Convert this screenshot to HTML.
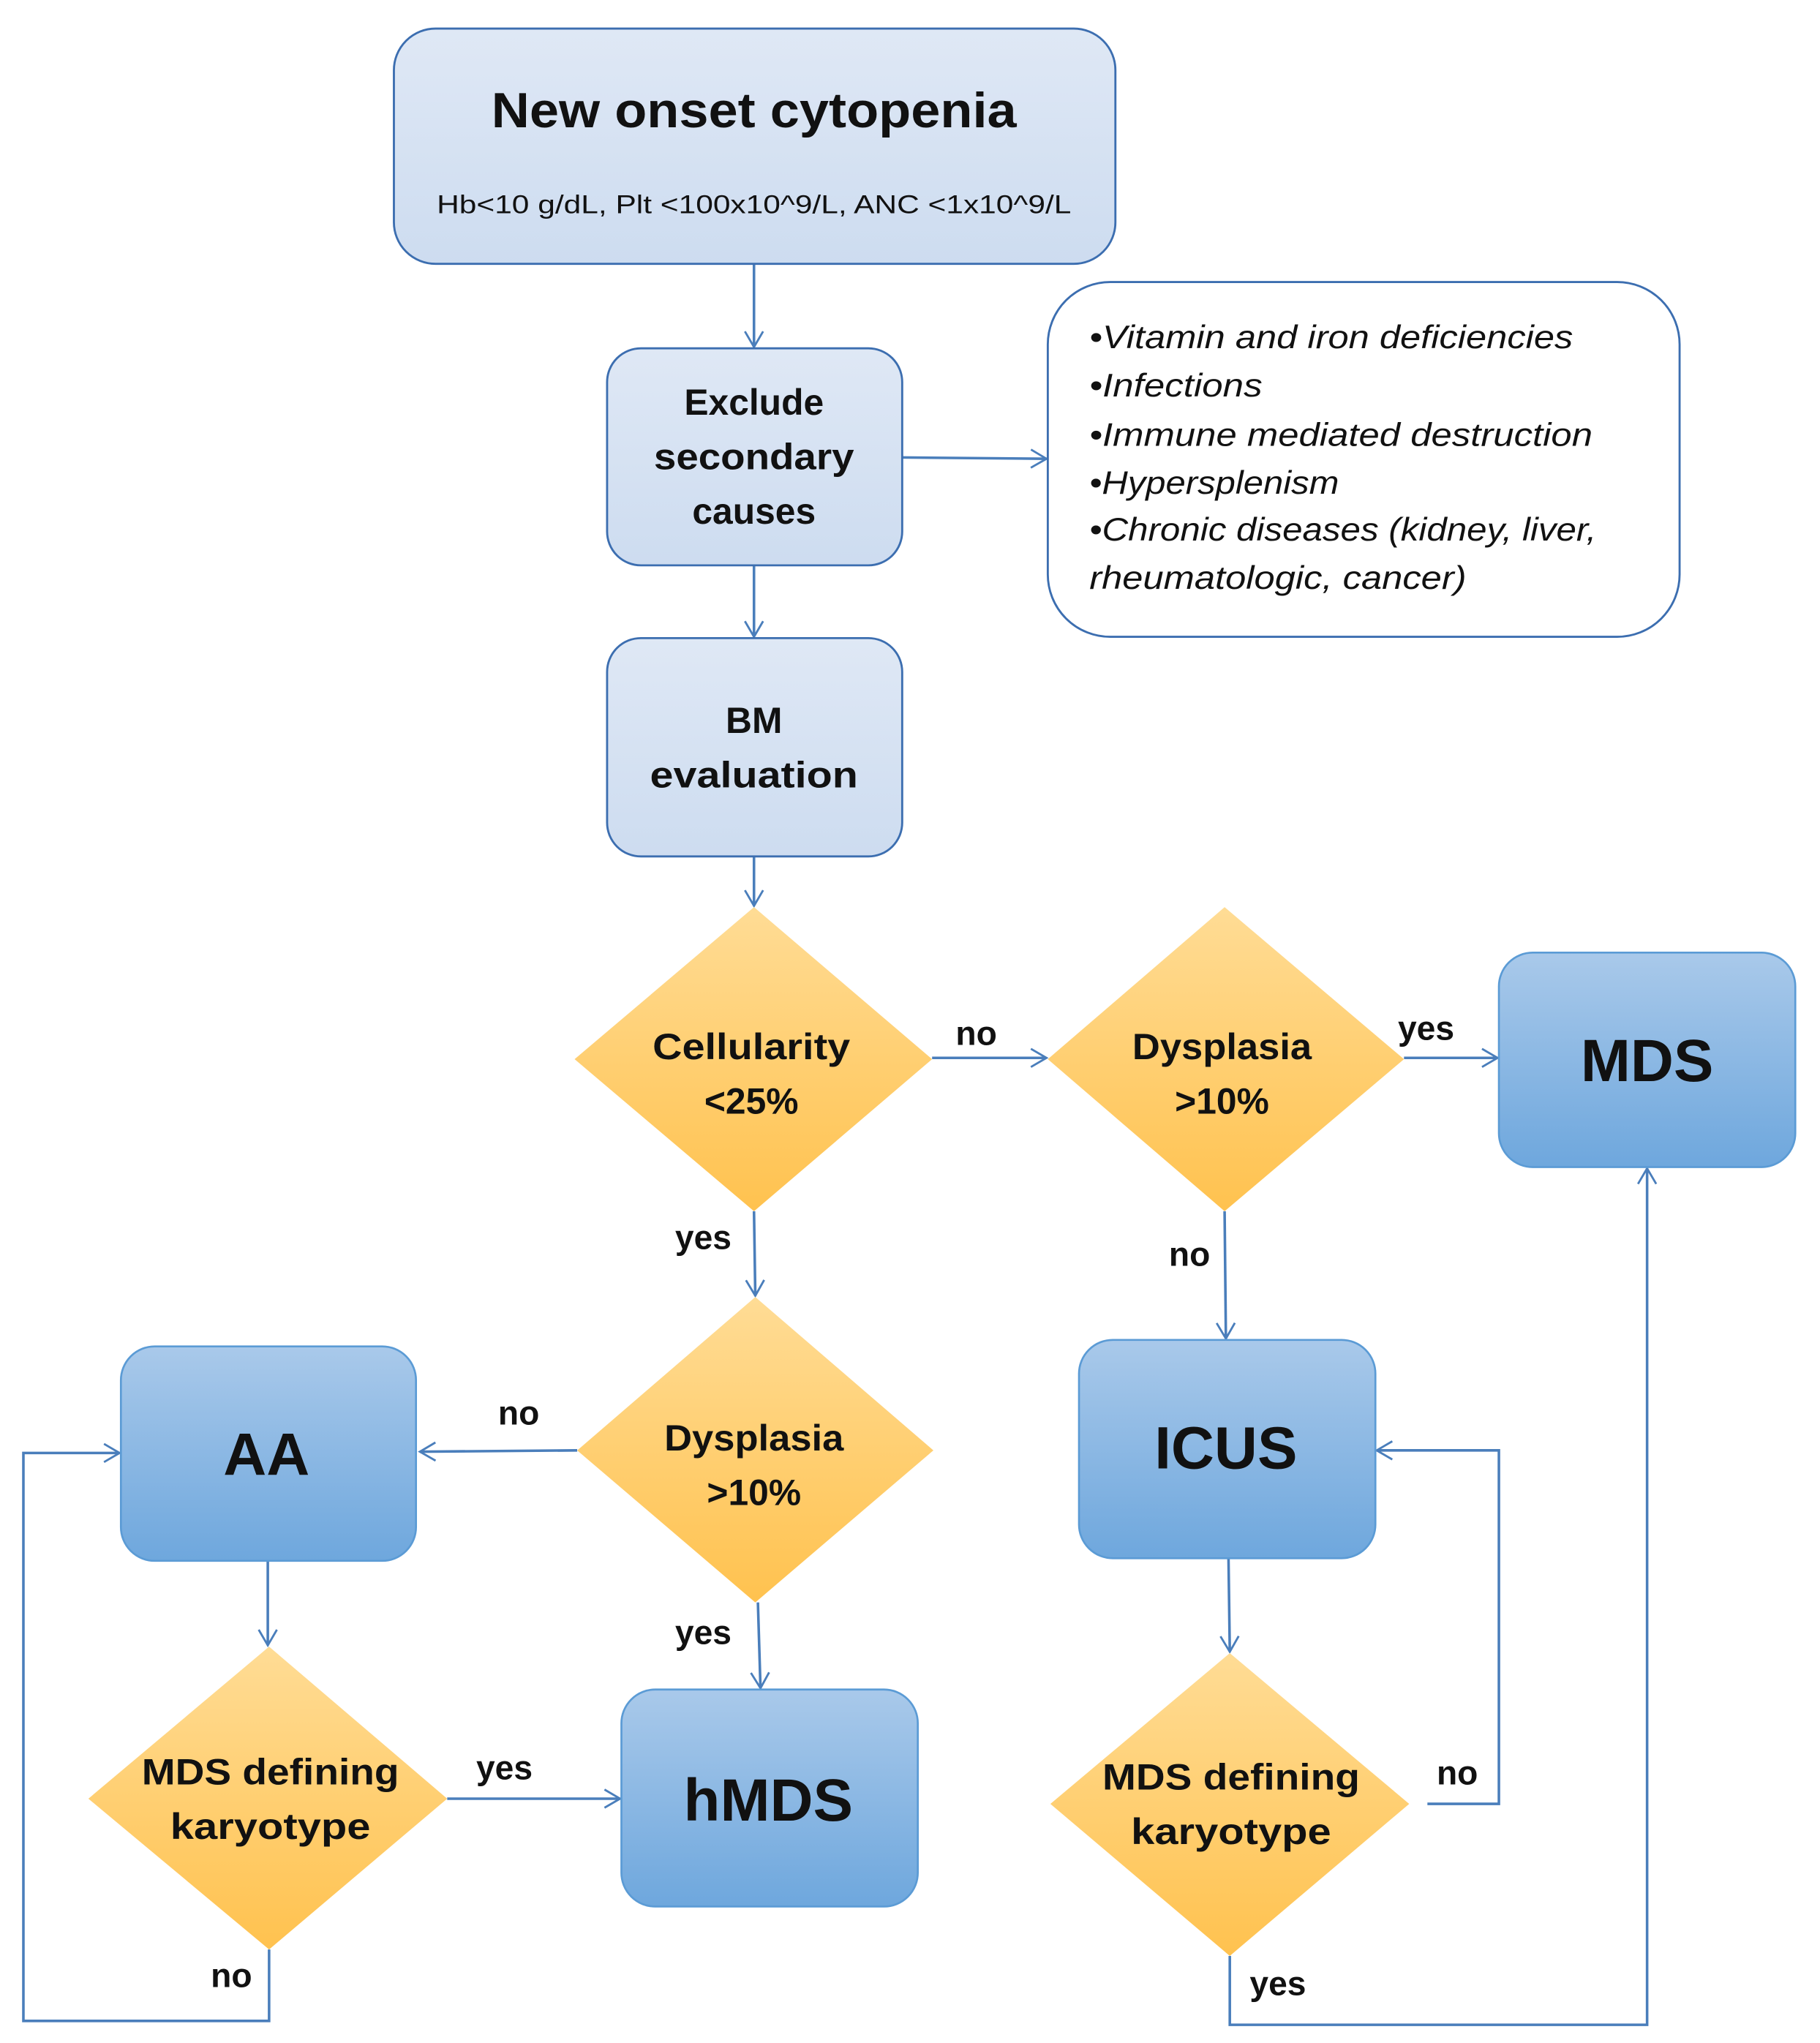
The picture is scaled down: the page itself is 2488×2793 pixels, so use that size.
<!DOCTYPE html>
<html><head><meta charset="utf-8"><style>
html,body{margin:0;padding:0;background:#fff;}
svg{display:block;}
text{font-family:"Liberation Sans",sans-serif;}
</style></head><body>
<svg width="2488" height="2793" viewBox="0 0 1400 1572" preserveAspectRatio="none" xmlns="http://www.w3.org/2000/svg">
<defs>
<linearGradient id="lb" x1="0" y1="0" x2="0" y2="1"><stop offset="0" stop-color="#dfe8f5"/><stop offset="1" stop-color="#cddcf0"/></linearGradient>
<linearGradient id="db" x1="0" y1="0" x2="0" y2="1"><stop offset="0" stop-color="#a9c9ea"/><stop offset="1" stop-color="#6ea7dd"/></linearGradient>
<linearGradient id="dm" x1="0" y1="0" x2="0" y2="1"><stop offset="0" stop-color="#ffdc95"/><stop offset="1" stop-color="#ffc24f"/></linearGradient>
<marker id="ar" markerWidth="16" markerHeight="16" refX="14" refY="8" orient="auto" markerUnits="userSpaceOnUse"><path d="M2,1 L14,8 L2,15" fill="none" stroke="#4a7ebb" stroke-width="1.6"/></marker>
</defs>
<g fill="none" stroke="#4a7ebb" stroke-width="2" marker-end="url(#ar)">
<line x1="580" y1="203" x2="580" y2="267"/>
<line x1="694" y1="352" x2="805" y2="353"/>
<line x1="580" y1="435" x2="580" y2="490"/>
<line x1="580" y1="659" x2="580" y2="697"/>
<line x1="717" y1="814" x2="805" y2="814"/>
<line x1="1080" y1="814" x2="1152" y2="814"/>
<line x1="580" y1="932" x2="581" y2="997"/>
<line x1="444" y1="1116" x2="323" y2="1117"/>
<line x1="583" y1="1233" x2="585" y2="1299"/>
<line x1="942" y1="932" x2="943" y2="1030"/>
<line x1="206" y1="1201" x2="206" y2="1266"/>
<line x1="344" y1="1384" x2="477" y2="1384"/>
<line x1="945" y1="1199" x2="946" y2="1271"/>
<polyline points="207,1500 207,1555 18,1555 18,1118 92,1118"/>
<polyline points="1098,1388 1153,1388 1153,1116 1059,1116"/>
<polyline points="946,1505 946,1558 1267,1558 1267,899"/>
</g>
<g stroke="#3c6eb0" stroke-width="1.6">
<rect x="303" y="22" width="555" height="181" rx="32" fill="url(#lb)"/>
<rect x="467" y="268" width="227" height="167" rx="26" fill="url(#lb)"/>
<rect x="467" y="491" width="227" height="168" rx="26" fill="url(#lb)"/>
<rect x="806" y="217" width="486" height="273" rx="48" fill="#fff"/>
</g>
<g stroke="#5b9bd5" stroke-width="1.5" fill="url(#db)">
<rect x="1153" y="733" width="228" height="165" rx="26"/>
<rect x="93" y="1036" width="227" height="165" rx="26"/>
<rect x="830" y="1031" width="228" height="168" rx="26"/>
<rect x="478" y="1300" width="228" height="167" rx="26"/>
</g>
<g fill="url(#dm)" stroke="none">
<polygon points="580,698 717,815 580,932 442,815"/>
<polygon points="942,698 1080,815 942,932 806,815"/>
<polygon points="581,998 718,1116 581,1233 444,1116"/>
<polygon points="207,1267 344,1384 207,1500 68,1384"/>
<polygon points="946,1272 1084,1388 946,1505 808,1388"/>
</g>
<g fill="#111" font-weight="bold" text-anchor="middle">
<text x="580" y="98" font-size="38" textLength="404" lengthAdjust="spacingAndGlyphs">New onset cytopenia</text>
<text x="580" y="164" font-size="20" font-weight="normal" textLength="488" lengthAdjust="spacingAndGlyphs">Hb&lt;10 g/dL, Plt &lt;100x10^9/L, ANC &lt;1x10^9/L</text>
<text x="580" y="319" font-size="28">Exclude</text>
<text x="580" y="361" font-size="28" textLength="154" lengthAdjust="spacingAndGlyphs">secondary</text>
<text x="580" y="403" font-size="28">causes</text>
<text x="580" y="564" font-size="28">BM</text>
<text x="580" y="606" font-size="28" textLength="160" lengthAdjust="spacingAndGlyphs">evaluation</text>
<text x="578" y="815" font-size="28" textLength="152" lengthAdjust="spacingAndGlyphs">Cellularity</text>
<text x="578" y="857" font-size="28">&lt;25%</text>
<text x="940" y="815" font-size="28" textLength="138" lengthAdjust="spacingAndGlyphs">Dysplasia</text>
<text x="940" y="857" font-size="28">&gt;10%</text>
<text x="580" y="1116" font-size="28" textLength="138" lengthAdjust="spacingAndGlyphs">Dysplasia</text>
<text x="580" y="1158" font-size="28">&gt;10%</text>
<text x="208" y="1373" font-size="28" textLength="198" lengthAdjust="spacingAndGlyphs">MDS defining</text>
<text x="208" y="1415" font-size="28" textLength="154" lengthAdjust="spacingAndGlyphs">karyotype</text>
<text x="947" y="1377" font-size="28" textLength="198" lengthAdjust="spacingAndGlyphs">MDS defining</text>
<text x="947" y="1419" font-size="28" textLength="154" lengthAdjust="spacingAndGlyphs">karyotype</text>
<text x="1267" y="832" font-size="46">MDS</text>
<text x="205" y="1135" font-size="46">AA</text>
<text x="943" y="1130" font-size="46">ICUS</text>
<text x="591" y="1401" font-size="46">hMDS</text>
<g font-size="26">
<text x="751" y="804">no</text>
<text x="1097" y="800">yes</text>
<text x="541" y="961">yes</text>
<text x="399" y="1096">no</text>
<text x="541" y="1265">yes</text>
<text x="915" y="974">no</text>
<text x="388" y="1369">yes</text>
<text x="178" y="1529">no</text>
<text x="1121" y="1373">no</text>
<text x="983" y="1535">yes</text>
</g>
</g>
<g fill="#111" font-style="italic" font-size="25">
<text x="838" y="268" textLength="372" lengthAdjust="spacingAndGlyphs">•Vitamin and iron deficiencies</text>
<text x="838" y="305" textLength="133" lengthAdjust="spacingAndGlyphs">•Infections</text>
<text x="838" y="343" textLength="387" lengthAdjust="spacingAndGlyphs">•Immune mediated destruction</text>
<text x="838" y="380" textLength="192" lengthAdjust="spacingAndGlyphs">•Hypersplenism</text>
<text x="838" y="416" textLength="390" lengthAdjust="spacingAndGlyphs">•Chronic diseases (kidney, liver,</text>
<text x="838" y="453" textLength="290" lengthAdjust="spacingAndGlyphs">rheumatologic, cancer)</text>
</g>
</svg>
</body></html>
